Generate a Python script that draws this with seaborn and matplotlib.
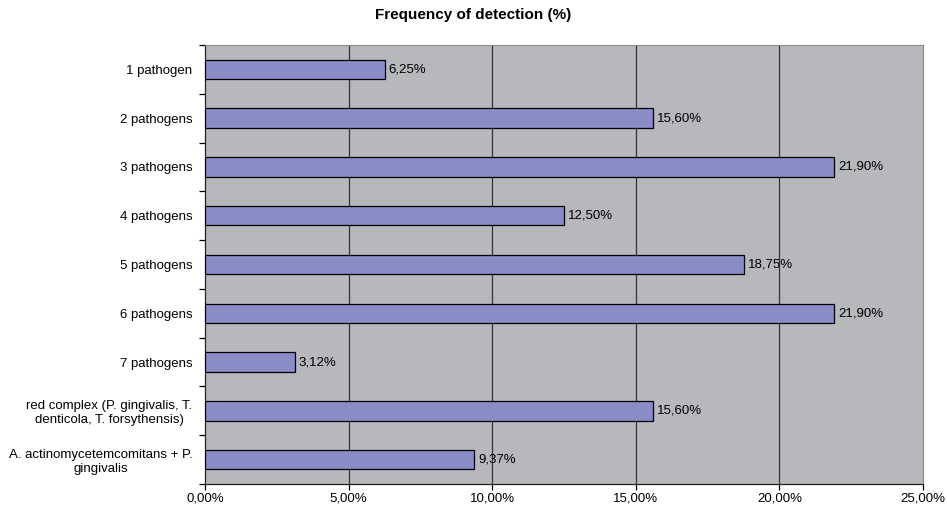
import numpy as np
import pandas as pd
import matplotlib
import matplotlib.pyplot as plt
import seaborn as sns

matplotlib.use('Agg')

categories = ['1 pathogen', '2 pathogens', '3 pathogens', '4 pathogens', '5 pathogens',
              '6 pathogens', '7 pathogens',
              'red complex (P. gingivalis, T.\ndenticola, T. forsythensis)',
              'A. actinomycetemcomitans + P.\ngingivalis']
values = [6.25, 15.60, 21.90, 12.50, 18.75, 21.90, 3.12, 15.60, 9.37]
x_ticks = [0, 5, 10, 15, 20, 25]

sns.set_style('white')
plt.rcParams['font.family'] = ['Liberation Sans', 'DejaVu Sans']
plt.rcParams['text.color'] = 'black'
plt.rcParams['xtick.color'] = 'black'
plt.rcParams['ytick.color'] = 'black'

data = pd.DataFrame({'Group': categories, 'Freq': values})

fig = plt.figure(figsize=(9.47, 5.07), dpi=100)
ax = fig.add_axes([205 / 947, 23 / 507, 718 / 947, 439 / 507])
ax.set_facecolor('#b7b8bc')

sns.barplot(x='Freq', y='Group', data=data, orient='h', color='#8a8cc6',
            edgecolor='black', linewidth=0.9, width=0.4, saturation=1, ax=ax, zorder=3)

for v in x_ticks[1:-1]:
    ax.axvline(v, color='#333333', linewidth=0.9, zorder=1)

ax.set_xlim(0, 25)
ax.set_ylim(len(categories) - 0.5, -0.5)
ax.set_xticks(x_ticks)
ax.set_xticklabels(['%d,00%%' % t for t in x_ticks], fontsize=9.5, color='black')
ax.set_yticks(range(len(categories)))
ax.set_yticklabels(categories, fontsize=9.5, ha='right', multialignment='center',
                   color='black')
ax.tick_params(axis='y', which='major', left=False, length=0, pad=9)
ax.set_yticks(np.arange(-0.5, len(categories), 1), minor=True)
ax.tick_params(axis='y', which='minor', left=True, length=4, width=0.9, color='black',
               direction='out')
ax.tick_params(axis='x', bottom=True, length=4, width=0.9, color='black', direction='out',
               pad=2)
ax.set_xlabel('')
ax.set_ylabel('')

for side in ['top', 'right']:
    ax.spines[side].set_color('#8a8a8a')
    ax.spines[side].set_linewidth(0.8)
for side in ['left', 'bottom']:
    ax.spines[side].set_color('#222222')
    ax.spines[side].set_linewidth(0.9)

labels = [('%.2f%%' % v).replace('.', ',') for v in values]
ax.bar_label(ax.containers[0], labels=labels, padding=3, fontsize=9.5, color='black')

fig.suptitle('Frequency of detection (%)', fontsize=11, fontweight='bold', y=0.985,
             color='black')

fig.savefig('out.png', dpi=100, facecolor='white')
